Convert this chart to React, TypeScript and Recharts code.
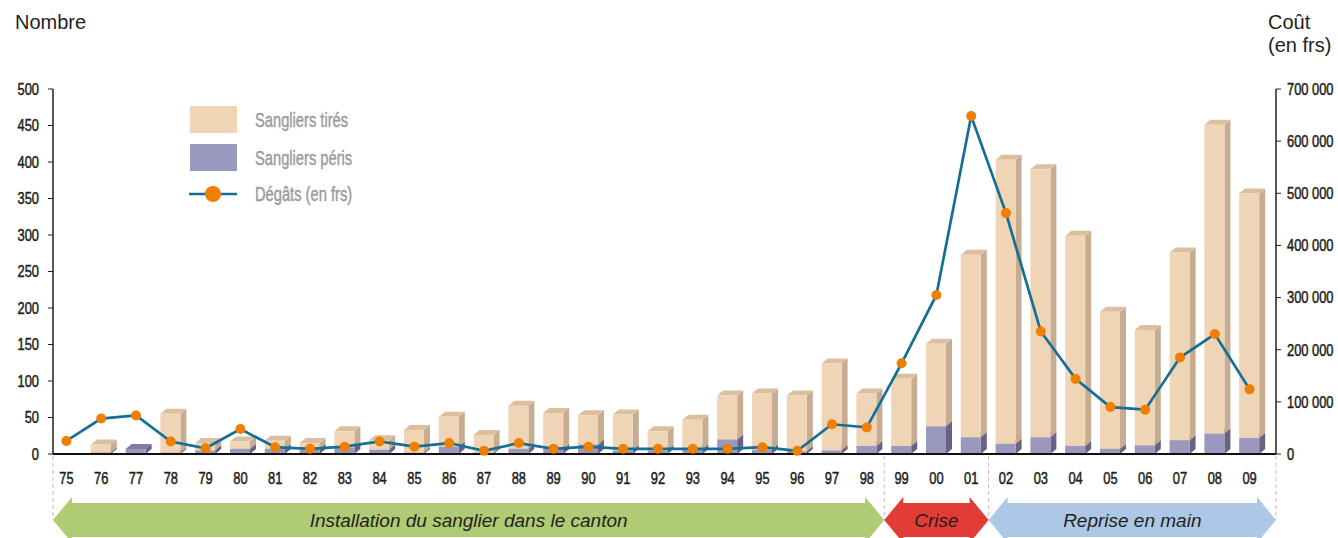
import React from 'react';
import { ComposedChart, Bar, Line, XAxis, YAxis, Legend } from 'recharts';

// Years (two-digit labels)
const years = [
  '75', '76', '77', '78', '79', '80', '81', '82', '83', '84', '85', '86',
  '87', '88', '89', '90', '91', '92', '93', '94', '95', '96', '97', '98',
  '99', '00', '01', '02', '03', '04', '05', '06', '07', '08', '09',
];

// Sangliers péris (bottom of each stack)
const peris = [
  0, 2, 7, 2, 5, 7, 7, 7, 9, 6, 2, 10,
  2, 7, 7, 13, 5, 5, 6, 20, 6, 4, 5, 11,
  11, 38, 23, 14, 23, 11, 7, 12, 19, 28, 22,
];

// Sangliers tirés (stacked on top)
const tires = [
  0, 11, 0, 53, 10, 10, 11, 8, 22, 13, 31, 41,
  24, 59, 49, 40, 49, 26, 41, 60, 77, 76, 119, 72,
  92, 113, 250, 389, 367, 288, 188, 158, 257, 423, 335,
];

// Dégâts en francs (right axis)
const degats = [
  25000, 68000, 74000, 24000, 11000, 48000, 13000, 10000, 14000, 24000, 14000, 21000,
  6000, 21000, 10000, 14000, 10000, 10000, 10000, 10000, 13000, 6000, 57000, 51000,
  174000, 305000, 648000, 462000, 235000, 144000, 90000, 85000, 185000, 230000, 124000,
];

const countTicks = [0, 50, 100, 150, 200, 250, 300, 350, 400, 450, 500];
const costTicks = [0, 100000, 200000, 300000, 400000, 500000, 600000, 700000];

const phases = [
  { label: 'Installation du sanglier dans le canton', from: '75', to: '98', fill: '#afcb74' },
  { label: 'Crise', from: '99', to: '01', fill: '#e33b36' },
  { label: 'Reprise en main', from: '02', to: '09', fill: '#adc8e6' },
];

const data = years.map((year, i) => ({
  year,
  peris: peris[i],
  tires: tires[i],
  degats: degats[i],
}));

const W = 1338;
const H = 538;
const PLOT_LEFT = 53;
const PLOT_RIGHT = 1276;
const PLOT_TOP = 89;
const PLOT_BOTTOM = 454;
const PAD_LEFT = -4;
const PAD_RIGHT = 9;

const SANS = "'Liberation Sans', Arial, Helvetica, sans-serif";
const INK = '#231f20';
// no condensed face installed: squeeze the regular one horizontally
const TICK_SQUEEZE = 0.78;
const LEGEND_SQUEEZE = 0.7;

const TAN = { front: '#efd5b5', top: '#dcc09e', side: '#c6ad92' };
const MAUVE = { front: '#9a98bd', top: '#7f79a3', side: '#6a6184' };
const LINE_BLUE = '#146f97';
const DOT_ORANGE = '#ef7f00';

const DEPTH_X = 6;
const DEPTH_Y = 5;

// pseudo-3D column: front face, right side face, top face
const makeBlock = (shade: { front: string; top: string; side: string }) => (props: any) => {
  const { x, y, width, height } = props;
  if (!height || height <= 0) return <g />;
  const r = x + width;
  return (
    <g>
      <polygon
        points={`${r},${y} ${r + DEPTH_X},${y - DEPTH_Y} ${r + DEPTH_X},${y + height - DEPTH_Y} ${r},${y + height}`}
        fill={shade.side}
      />
      <polygon
        points={`${x},${y} ${x + DEPTH_X},${y - DEPTH_Y} ${r + DEPTH_X},${y - DEPTH_Y} ${r},${y}`}
        fill={shade.top}
      />
      <rect x={x} y={y} width={width} height={height} fill={shade.front} />
    </g>
  );
};

const formatCost = (v: number) => (v === 0 ? '0' : `${v / 1000} 000`);

const narrowTick =
  (anchor: 'start' | 'middle' | 'end', dy: string, format: (v: any) => string = String) =>
  (props: any) => {
    const { x, y, payload } = props;
    return (
      <text
        transform={`translate(${x},${y}) scale(${TICK_SQUEEZE},1)`}
        textAnchor={anchor}
        dy={dy}
        fontFamily={SANS}
        fontSize={16.5}
        fill={INK}
        stroke={INK}
        strokeWidth={0.5}
      >
        {format(payload.value)}
      </text>
    );
  };

const legendRows = [
  { label: 'Sangliers tirés', y: 27 },
  { label: 'Sangliers péris', y: 65 },
  { label: 'Dégâts (en frs)', y: 101 },
];

const renderLegend = () => (
  <svg width={200} height={115} style={{ display: 'block', overflow: 'visible' }}>
    <rect x={5} y={6} width={47} height={27} fill={TAN.front} />
    <rect x={5} y={44} width={47} height={27} fill={MAUVE.front} />
    <line x1={4} x2={52} y1={94} y2={94} stroke={LINE_BLUE} strokeWidth={2.7} />
    <circle cx={28} cy={94} r={8} fill={DOT_ORANGE} />
    {legendRows.map((row) => (
      <text
        key={row.label}
        transform={`translate(70,${row.y}) scale(${LEGEND_SQUEEZE},1)`}
        fontFamily={SANS}
        fontSize={21}
        fill="#9b9b9b"
        stroke="#9b9b9b"
        strokeWidth={0.45}
      >
        {row.label}
      </text>
    ))}
  </svg>
);

// period arrows and separators under the category axis
const bandWidth = (PLOT_RIGHT - PAD_RIGHT - (PLOT_LEFT + PAD_LEFT)) / years.length;
const edgeAt = (idx: number) => {
  if (idx <= 0) return PLOT_LEFT;
  if (idx >= years.length) return PLOT_RIGHT;
  return PLOT_LEFT + PAD_LEFT + bandWidth * idx;
};

const ARROW_MID = 520;
const HEAD_HALF = 23;
const BODY_HALF = 17;
const HEAD_LEN = 19;

const arrowPoints = (x0: number, x1: number) => {
  const t = ARROW_MID - HEAD_HALF;
  const b = ARROW_MID + HEAD_HALF;
  const bt = ARROW_MID - BODY_HALF;
  const bb = ARROW_MID + BODY_HALF;
  return [
    [x0, ARROW_MID], [x0 + HEAD_LEN, t], [x0 + HEAD_LEN, bt], [x1 - HEAD_LEN, bt],
    [x1 - HEAD_LEN, t], [x1, ARROW_MID], [x1 - HEAD_LEN, b], [x1 - HEAD_LEN, bb],
    [x0 + HEAD_LEN, bb], [x0 + HEAD_LEN, b],
  ].map((p) => p.join(',')).join(' ');
};

const Overlay = () => {
  const spans = phases.map((p) => ({
    ...p,
    x0: edgeAt(years.indexOf(p.from)),
    x1: edgeAt(years.indexOf(p.to) + 1),
  }));
  const cuts = [spans[0].x0, ...spans.map((s) => s.x1)];
  return (
    <svg width={W} height={H} style={{ position: 'absolute', left: 0, top: 0, pointerEvents: 'none' }}>
      <text x={15} y={29} fontFamily={SANS} fontSize={20} fill={INK}>Nombre</text>
      <text x={1268} y={29} fontFamily={SANS} fontSize={20} fill={INK}>Coût</text>
      <text x={1268} y={52} fontFamily={SANS} fontSize={20} fill={INK}>(en frs)</text>
      {cuts.map((x, i) => (
        <line key={i} x1={x} x2={x} y1={PLOT_BOTTOM + 2} y2={ARROW_MID} stroke="#bdbdbd" strokeDasharray="4 3" />
      ))}
      {spans.map((s) => (
        <g key={s.label}>
          <polygon points={arrowPoints(s.x0, s.x1)} fill={s.fill} />
          <text
            x={(s.x0 + s.x1) / 2}
            y={ARROW_MID + 7}
            textAnchor="middle"
            fontFamily={SANS}
            fontStyle="italic"
            fontSize={19}
            fill={INK}
          >
            {s.label}
          </text>
        </g>
      ))}
    </svg>
  );
};

export default function App() {
  return (
    <div style={{ position: 'absolute', left: 0, top: 0, width: W, height: H, background: '#fff' }}>
      <ComposedChart
        width={W}
        height={H}
        data={data}
        margin={{ top: PLOT_TOP, right: 0, bottom: 0, left: 0 }}
      >
        <XAxis
          dataKey="year"
          interval={0}
          padding={{ left: PAD_LEFT, right: PAD_RIGHT }}
          height={H - PLOT_BOTTOM}
          tickLine={false}
          tickSize={0}
          tickMargin={18}
          axisLine={{ stroke: '#111', strokeWidth: 2 }}
          tick={narrowTick('middle', '0.71em')}
        />
        <YAxis
          yAxisId="left"
          domain={[0, 500]}
          ticks={countTicks}
          width={PLOT_LEFT}
          tickSize={5}
          tickMargin={9}
          axisLine={{ stroke: INK, strokeWidth: 1.5 }}
          tickLine={{ stroke: INK }}
          tick={narrowTick('end', '0.355em')}
          interval={0}
        />
        <YAxis
          yAxisId="right"
          orientation="right"
          domain={[0, 700000]}
          ticks={costTicks}
          width={W - PLOT_RIGHT}
          tickSize={5}
          tickMargin={6}
          axisLine={{ stroke: INK, strokeWidth: 1.5 }}
          tickLine={{ stroke: INK }}
          tick={narrowTick('start', '0.355em', formatCost)}
          interval={0}
        />
        <Legend
          layout="vertical"
          align="center"
          verticalAlign="middle"
          content={renderLegend}
          wrapperStyle={{ top: 100, left: 185, width: 200, height: 115 }}
        />
        <Bar
          yAxisId="left"
          dataKey="peris"
          name="Sangliers péris"
          stackId="n"
          barSize={20}
          shape={makeBlock(MAUVE)}
          isAnimationActive={false}
        />
        <Bar
          yAxisId="left"
          dataKey="tires"
          name="Sangliers tirés"
          stackId="n"
          barSize={20}
          shape={makeBlock(TAN)}
          isAnimationActive={false}
        />
        <Line
          yAxisId="right"
          type="linear"
          dataKey="degats"
          name="Dégâts (en frs)"
          stroke={LINE_BLUE}
          strokeWidth={2.7}
          dot={{ r: 5, fill: DOT_ORANGE, stroke: DOT_ORANGE, strokeWidth: 0 }}
          activeDot={false}
          isAnimationActive={false}
        />
      </ComposedChart>
      <Overlay />
    </div>
  );
}
